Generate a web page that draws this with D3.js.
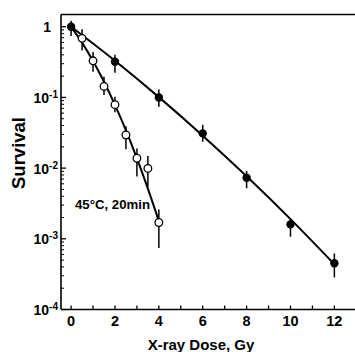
<!DOCTYPE html>
<html>
<head>
<meta charset="utf-8">
<script src="https://cdn.jsdelivr.net/npm/d3@7"></script>
<style>
  body { margin: 0; background: #fff; }
  svg { display: block; font-family: "Liberation Sans", Arial, sans-serif; font-weight: bold; }
</style>
</head>
<body>
<script>

let width = 355;
let height = 352;

// X-ray alone (filled circles)
const xrayDose = [0, 2, 4, 6, 8, 10, 12];
const xraySurv = [1, 0.32, 0.10, 0.031, 0.0073, 0.0016, 0.00045];
const xrayLo = [0.74, 0.224, 0.074, 0.0236, 0.0052, 0.00107, 0.000285];
const xrayHi = [1.22, 0.40, 0.13, 0.041, 0.0091, 0.00195, 0.00062];

// 45°C, 20min + X-ray (open circles)
const heatDose = [0.5, 1, 1.5, 2, 2.5, 3, 3.5, 4];
const heatSurv = [0.685, 0.33, 0.143, 0.079, 0.0294, 0.0138, 0.0099, 0.0017];
const heatLo = [0.46, 0.23, 0.108, 0.0617, 0.0185, 0.0076, 0.0055, 0.00074];
const heatHi = [0.92, 0.44, 0.196, 0.102, 0.039, 0.019, 0.0148, 0.0026];

// fitted curves
const xrayFitDose = [0, 2, 4, 6, 8, 10, 12];
const xrayFitSurv = [1, 0.330, 0.101, 0.0288, 0.00767, 0.0019, 0.000437];
const heatFitDose = [0, 0.5, 1, 1.5, 2, 2.5, 3, 3.5, 4];
const heatFitSurv = [1, 0.596, 0.327, 0.167, 0.0785, 0.0342, 0.01377, 0.00514, 0.00178];

const xTicks = [0, 1, 2, 3, 4, 5, 6, 7, 8, 9, 10, 11, 12];
const xLabels = [0, 2, 4, 6, 8, 10, 12];
const yDecades = [1e-4, 1e-3, 1e-2, 1e-1, 1];
const heatLabel = "45°C, 20min";

let svg = d3.select("body").append("svg")
    .attr("width", width)
    .attr("height", height);

let x = d3.scaleLinear()
    .domain([-0.46, 12.94])
    .range([61, 355]);

let y = d3.scaleLog()
    .domain([1e-4, 1.49])
    .range([309.5, 14.5]);

// frame: left axis, bottom axis, top border
svg.append("line")
    .attr("x1", x.range()[0]).attr("x2", x.range()[0])
    .attr("y1", y.range()[0]).attr("y2", y.range()[1])
    .attr("stroke", "#000").attr("stroke-width", 1.6);
svg.append("line")
    .attr("x1", x.range()[0]).attr("x2", x.range()[1])
    .attr("y1", y.range()[0]).attr("y2", y.range()[0])
    .attr("stroke", "#000").attr("stroke-width", 1.6);
svg.append("line")
    .attr("x1", x.range()[0]).attr("x2", x.range()[1])
    .attr("y1", y.range()[1]).attr("y2", y.range()[1])
    .attr("stroke", "#000").attr("stroke-width", 1.6);

// x ticks (inside)
svg.selectAll(".xtick")
    .data(xTicks)
    .enter()
    .append("line")
    .attr("x1", d => x(d)).attr("x2", d => x(d))
    .attr("y1", y.range()[0]).attr("y2", y.range()[0] - 4)
    .attr("stroke", "#000").attr("stroke-width", 1.3);

svg.selectAll(".xlabel")
    .data(xLabels)
    .enter()
    .append("text")
    .attr("x", d => x(d))
    .attr("y", 326)
    .attr("text-anchor", "middle")
    .attr("font-size", 14.5)
    .text(d => d);

// y ticks: decades and minor
let minor = [];
yDecades.slice(0, -1).forEach(function (d) {
    for (let k = 2; k <= 9; k++) minor.push(d * k);
});
svg.selectAll(".ymin")
    .data(minor)
    .enter()
    .append("line")
    .attr("x1", x.range()[0]).attr("x2", x.range()[0] + 3)
    .attr("y1", d => y(d)).attr("y2", d => y(d))
    .attr("stroke", "#000").attr("stroke-width", 1);
svg.selectAll(".ymaj")
    .data(yDecades)
    .enter()
    .append("line")
    .attr("x1", x.range()[0]).attr("x2", x.range()[0] + 5)
    .attr("y1", d => y(d)).attr("y2", d => y(d))
    .attr("stroke", "#000").attr("stroke-width", 1.3);

let ylab = svg.selectAll(".ylabel")
    .data(yDecades)
    .enter()
    .append("text")
    .attr("x", 58)
    .attr("y", d => y(d) + 5.5)
    .attr("text-anchor", "end")
    .attr("font-size", 14);
ylab.each(function (d) {
    let t = d3.select(this);
    let p = Math.round(Math.log10(d));
    if (p === 0) {
        t.attr("x", 51).text("1");
    } else {
        t.append("tspan").text("10");
        t.append("tspan")
            .attr("dy", -5)
            .attr("font-size", 10)
            .text("-" + (-p));
    }
});

// axis titles
svg.append("text")
    .attr("transform", "translate(25," + 153 + ") rotate(-90)")
    .attr("text-anchor", "middle")
    .attr("font-size", 18.5)
    .text("Survival");

svg.append("text")
    .attr("x", 201)
    .attr("y", 350)
    .attr("text-anchor", "middle")
    .attr("font-size", 15)
    .text("X-ray Dose, Gy");

// fitted curves
let line = d3.line()
    .x(d => x(d[0]))
    .y(d => y(d[1]))
    .curve(d3.curveMonotoneX);

svg.append("path")
    .attr("d", line(d3.zip(xrayFitDose, xrayFitSurv)))
    .attr("fill", "none").attr("stroke", "#000").attr("stroke-width", 2);
svg.append("path")
    .attr("d", line(d3.zip(heatFitDose, heatFitSurv)))
    .attr("fill", "none").attr("stroke", "#000").attr("stroke-width", 2);

// error bars
function errorBars(dose, lo, hi) {
    svg.append("g").selectAll("line")
        .data(d3.zip(dose, lo, hi))
        .enter()
        .append("line")
        .attr("x1", d => x(d[0])).attr("x2", d => x(d[0]))
        .attr("y1", d => y(d[1])).attr("y2", d => y(d[2]))
        .attr("stroke", "#000").attr("stroke-width", 1.5);
}
errorBars(xrayDose, xrayLo, xrayHi);
errorBars(heatDose, heatLo, heatHi);

// markers
svg.append("g").selectAll("circle")
    .data(d3.zip(heatDose, heatSurv))
    .enter()
    .append("circle")
    .attr("cx", d => x(d[0]))
    .attr("cy", d => y(d[1]))
    .attr("r", 3.8)
    .attr("fill", "#fff").attr("stroke", "#000").attr("stroke-width", 1.3);

svg.append("g").selectAll("circle")
    .data(d3.zip(xrayDose, xraySurv))
    .enter()
    .append("circle")
    .attr("cx", d => x(d[0]))
    .attr("cy", d => y(d[1]))
    .attr("r", 4.2)
    .attr("fill", "#000");

svg.append("text")
    .attr("x", 75)
    .attr("y", 209)
    .attr("font-size", 12)
    .attr("textLength", 75)
    .attr("lengthAdjust", "spacingAndGlyphs")
    .text(heatLabel);

</script>
</body>
</html>
